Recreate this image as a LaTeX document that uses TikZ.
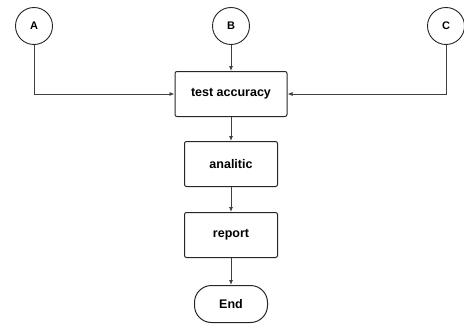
\documentclass[tikz,border=0pt]{standalone}
\usepackage{fontspec}
\setmainfont{Liberation Sans}
\usetikzlibrary{arrows.meta}

\tikzset{
  conn/.style={circle, draw=black!85, line width=0.9pt, minimum size=37pt, inner sep=0pt, font=\bfseries\fontsize{11}{13}\selectfont},
  procbox/.style={rectangle, rounded corners=2pt, draw=black!85, line width=1pt, minimum height=45pt, font=\bfseries\fontsize{12.5}{15}\selectfont},
  endbox/.style={rectangle, rounded corners=17pt, draw=black!85, line width=1pt, minimum width=73pt, minimum height=37pt, font=\bfseries\fontsize{12.5}{15}\selectfont},
  flow/.style={draw=black!75, line width=0.8pt, -{Latex[length=5pt,width=4pt]}}
}

\begin{document}
\begin{tikzpicture}[x=1pt, y=-1pt]

\useasboundingbox (0,0) rectangle (464,324);

% Define connectors
\node[conn] (A) at (34, 26) {A};
\node[conn] (B) at (231, 26) {B};
\node[conn] (C) at (446, 26) {C};

% Process steps
\node[procbox, minimum width=112pt] (test) at (231, 94) {test accuracy};
\node[procbox, minimum width=93pt] (analitic) at (231, 164) {analitic};
\node[procbox, minimum width=93pt] (report) at (231, 235) {report};
\node[endbox] (end) at (231, 304) {End};

% Draw the flow
\draw[flow] (A.south) |- (test.west);
\draw[flow] (B) -- (test);
\draw[flow] (C.south) |- (test.east);
\draw[flow] (test) -- (analitic);
\draw[flow] (analitic) -- (report);
\draw[flow] (report) -- (end);

\end{tikzpicture}
\end{document}
